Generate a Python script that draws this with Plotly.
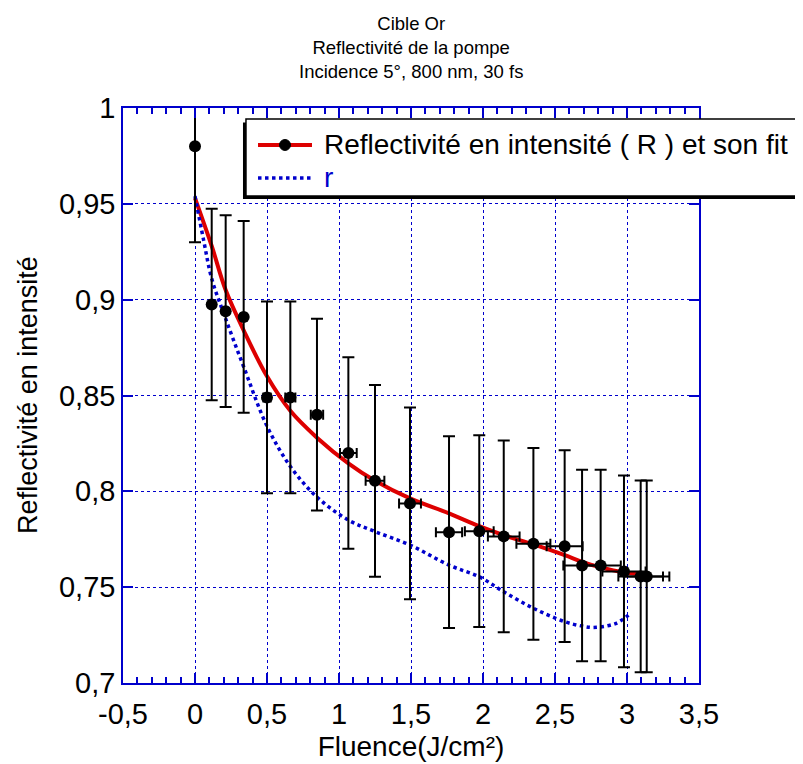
import plotly.graph_objects as go

# mesures : fluence (J/cm2) et reflectivite
fluence = [0, 0.116, 0.213, 0.338, 0.5, 0.662, 0.847, 1.065, 1.25, 1.493,
           1.764, 1.974, 2.144, 2.35, 2.567, 2.688, 2.817, 2.979, 3.095, 3.137]
refl = [0.980, 0.8975, 0.894, 0.891, 0.849, 0.849, 0.840, 0.820, 0.8055, 0.7937,
        0.7787, 0.7792, 0.7765, 0.7726, 0.7714, 0.7613, 0.7613, 0.7582, 0.7556, 0.7556]
err_refl = [0.05] * 20
err_fluence = [0, 0.006, 0.011, 0.017, 0.025, 0.035, 0.043, 0.058, 0.065, 0.076,
               0.091, 0.10, 0.11, 0.118, 0.125, 0.13, 0.14, 0.15, 0.155, 0.157]

# fit R
fit_x = [0, 0.116, 0.213, 0.338, 0.5, 0.662, 0.847, 1.065, 1.25, 1.493,
         1.764, 1.974, 2.144, 2.35, 2.567, 2.688, 2.817, 2.979, 3.137]
fit_y = [0.953, 0.928, 0.905, 0.884, 0.860, 0.842, 0.828, 0.8146, 0.8055, 0.7963,
         0.7885, 0.7818, 0.7771, 0.7723, 0.7667, 0.7632, 0.7603, 0.7577, 0.7566]

# r
r_x = [0, 0.06, 0.116, 0.213, 0.338, 0.5, 0.662, 0.847, 1.065, 1.25, 1.493,
       1.764, 1.974, 2.144, 2.35, 2.567, 2.688, 2.767, 2.92, 3.01]
r_y = [0.954, 0.931, 0.911, 0.890, 0.865, 0.834, 0.813, 0.797, 0.785, 0.779, 0.772,
       0.7615, 0.7554, 0.7476, 0.739, 0.732, 0.7297, 0.729, 0.731, 0.7354]

x_ticks = [-0.5, 0, 0.5, 1, 1.5, 2, 2.5, 3, 3.5]
x_labels = ['-0,5', '0', '0,5', '1', '1,5', '2', '2,5', '3', '3,5']
y_ticks = [0.7, 0.75, 0.8, 0.85, 0.9, 0.95, 1]
y_labels = ['0,7', '0,75', '0,8', '0,85', '0,9', '0,95', '1']

legend_names = ['Reflectivité en intensité ( R ) et son fit', 'r']

BLUE = '#0000cc'
RED = '#dd0000'
FONT = 'Liberation Sans, Arial, sans-serif'

fig = go.Figure()

fig.add_trace(go.Scatter(x=fit_x, y=fit_y, mode='lines', line_shape='spline',
                         name=legend_names[0], line=dict(color=RED, width=4)))
fig.add_trace(go.Scatter(x=r_x, y=r_y, mode='lines', line_shape='spline',
                         name=legend_names[1], line=dict(color=BLUE, width=3.5, dash='dot')))
fig.add_trace(go.Scatter(
    x=fluence, y=refl, mode='markers', name='R',
    marker=dict(color='black', size=12),
    error_y=dict(type='data', array=err_refl, color='black', thickness=2, width=6),
    error_x=dict(type='data', array=err_fluence, color='black', thickness=2, width=5),
))

# legende dessinee a la main (cadre + ombre), pour garder des lignes serrees
P = dict(xref='paper', yref='paper', layer='above')
fig.add_shape(type='rect', x0=0.2083, x1=1.3, y0=0.8417, y1=0.975,
              fillcolor='black', line=dict(width=0), **P)
fig.add_shape(type='rect', x0=0.2135, x1=1.3, y0=0.847, y1=0.9809,
              fillcolor='white', line=dict(color='black', width=1.5), **P)
fig.add_shape(type='line', x0=0.2344, x1=0.3281, y0=0.9357, y1=0.9357,
              line=dict(color=RED, width=4), **P)
fig.add_shape(type='circle', x0=0.2717, x1=0.2908, y0=0.9262, y1=0.9452,
              fillcolor='black', line=dict(color='black', width=1), **P)
fig.add_shape(type='line', x0=0.2344, x1=0.3281, y0=0.8783, y1=0.8783,
              line=dict(color=BLUE, width=3.5, dash='dot'), **P)
fig.add_annotation(text=legend_names[0], xref='paper', yref='paper', x=0.3455, y=0.9357,
                   xanchor='left', yanchor='middle', showarrow=False,
                   font=dict(family=FONT, size=28, color='black'))
fig.add_annotation(text=legend_names[1], xref='paper', yref='paper', x=0.3455, y=0.8783,
                   xanchor='left', yanchor='middle', showarrow=False,
                   font=dict(family=FONT, size=28, color=BLUE))

axis_common = dict(showline=True, linecolor=BLUE, linewidth=1.5, mirror='ticks',
                   ticks='inside', tickcolor=BLUE, ticklen=10, tickwidth=1.5,
                   showgrid=True, gridcolor=BLUE, griddash='dot', gridwidth=1,
                   zeroline=False, tickfont=dict(family=FONT, size=29, color='black'))

fig.update_xaxes(range=[-0.5, 3.5], tickvals=x_ticks, ticktext=x_labels,
                 minor=dict(dtick=0.1, tick0=0, ticks='inside', ticklen=6, tickcolor=BLUE,
                            showgrid=False),
                 ticklabelstandoff=4,
                 title=dict(text='Fluence(J/cm²)', font=dict(family=FONT, size=28), standoff=8),
                 **axis_common)
fig.update_yaxes(range=[0.7, 1], tickvals=y_ticks, ticktext=y_labels, **axis_common)

fig.add_annotation(text='Reflectivité en intensité', xref='paper', yref='paper',
                   x=-0.165, y=0.501, xanchor='center', yanchor='middle', textangle=-90,
                   showarrow=False, font=dict(family=FONT, size=27))
fig.add_annotation(text='Cible Or<br>Reflectivité de la pompe<br>Incidence 5°, 800 nm, 30 fs',
                   xref='paper', yref='paper', x=0.5, y=1.106, xanchor='center',
                   yanchor='middle', showarrow=False, font=dict(family=FONT, size=18.5))

fig.update_layout(
    width=803, height=764,
    margin=dict(l=115, r=112, t=100, b=89),
    paper_bgcolor='white', plot_bgcolor='white',
    font=dict(family=FONT, color='black'),
    showlegend=False,
)

fig.write_html('out.html')
